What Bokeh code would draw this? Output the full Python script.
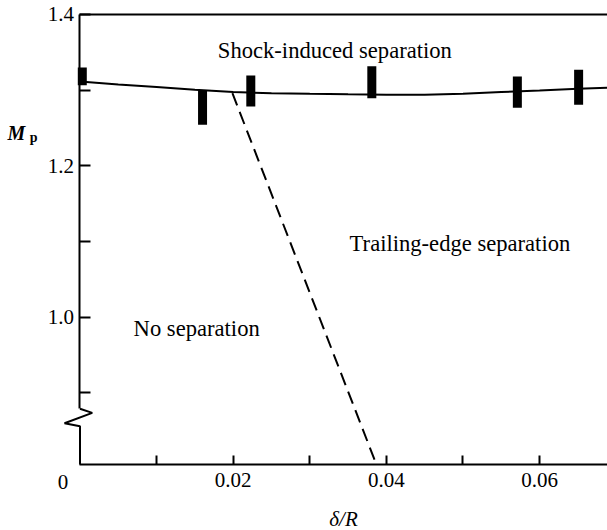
from bokeh.plotting import figure
from bokeh.models import LinearAxis, FixedTicker, Label
from bokeh.core.properties import value
from bokeh.embed import file_html
from bokeh.resources import INLINE

# Separation boundary M_p(δ/R)
curve_x = [0.0, 0.005, 0.01, 0.015, 0.02, 0.025, 0.03, 0.035, 0.04, 0.045,
           0.05, 0.055, 0.06, 0.065, 0.0689]
curve_y = [1.3115, 1.3075, 1.3042, 1.3005, 1.2975, 1.2960, 1.2952, 1.2945,
           1.2940, 1.2940, 1.2952, 1.2975, 1.2995, 1.3019, 1.3033]

# Measured ranges (error bars)
bar_x = [0.0003, 0.0160, 0.0223, 0.0381, 0.0571, 0.0651]
bar_lo = [1.3066, 1.2543, 1.2785, 1.2894, 1.2768, 1.2807]
bar_hi = [1.3300, 1.2996, 1.3194, 1.3317, 1.3180, 1.3270]

# Boundary between no separation and trailing-edge separation
boundary_x = [0.0199, 0.0387]
boundary_y = [1.2960, 0.8055]

x_ticks = [0.01, 0.02, 0.03, 0.04, 0.05, 0.06]
x_tick_labels = ["", "0.02", "", "0.04", "", "0.06"]
y_ticks = [0.9, 1.0, 1.1, 1.2, 1.3, 1.4]
y_tick_labels = ["", "1.0", "", "1.2", "", "1.4"]

region_text = ["Shock-induced separation", "Trailing-edge separation", "No separation"]
region_x = [0.0180, 0.0352, 0.0070]
region_y = [1.3524, 1.0971, 0.9848]

# Axis frame: δ/R from 0, M_p from the (broken) bottom up to 1.4
X0, X1 = 0.0, 0.06887
Y0, Y1 = 0.8055, 1.4
SERIF = "Liberation Serif"

# The plotting frame fills the canvas; the axes are pinned inside it.
p = figure(width=607, height=530, x_range=(-0.010379, X1), y_range=(0.71836, 1.41849),
           x_axis_location=None, y_axis_location=None,
           output_backend="svg", toolbar_location=None,
           min_border=0)
p.outline_line_color = None
p.background_fill_color = "white"
p.border_fill_color = "white"
for g in p.grid:
    g.visible = False


def style_axis(ax, tick_in):
    ax.axis_line_width = 2
    ax.axis_line_color = "black"
    ax.major_tick_in = tick_in
    ax.major_tick_out = 0
    ax.major_tick_line_width = 2
    ax.major_tick_line_color = "black"
    ax.minor_tick_in = 0
    ax.minor_tick_out = 0
    ax.major_label_text_font = SERIF
    ax.major_label_text_font_size = "21px"
    ax.major_label_text_color = "black"


xaxis = LinearAxis(ticker=FixedTicker(ticks=x_ticks), bounds=(X0, X1),
                   fixed_location=Y0)
style_axis(xaxis, 9)
xaxis.major_label_overrides = dict(zip(x_ticks, x_tick_labels))
xaxis.major_label_standoff = 8
xaxis.axis_label = "δ/R"
xaxis.axis_label_text_font = SERIF
xaxis.axis_label_text_font_style = "italic"
xaxis.axis_label_text_font_size = "21px"
xaxis.axis_label_text_color = "black"
xaxis.axis_label_standoff = 17
p.add_layout(xaxis, "below")

yaxis = LinearAxis(ticker=FixedTicker(ticks=y_ticks), bounds=(0.8791, Y1),
                   fixed_location=X0)
style_axis(yaxis, 11)
yaxis.major_label_overrides = dict(zip(y_ticks, y_tick_labels))
yaxis.major_label_standoff = 6
p.add_layout(yaxis, "left")

top = LinearAxis(ticker=FixedTicker(ticks=[]), bounds=(X0, X1), fixed_location=Y1)
style_axis(top, 0)
top.major_label_text_font_size = "0px"
p.add_layout(top, "above")

# Broken lower part of the M_p axis
p.line([0, 0.0016, -0.00202, 0, 0], [0.8791, 0.8738, 0.8601, 0.8561, Y0],
       line_color="black", line_width=2)

p.line(curve_x, curve_y, line_color="black", line_width=2)
p.line(boundary_x, boundary_y, line_color="black", line_width=2, line_dash="13 7")
p.segment(x0=bar_x, y0=bar_lo, x1=bar_x, y1=bar_hi, line_color="black",
          line_width=9, line_cap="butt")

p.text(x=region_x, y=region_y, text=region_text, text_font=value(SERIF),
       text_font_size="22.6px", text_color="black", text_align="left",
       text_baseline="alphabetic")

p.add_layout(Label(x=0, x_offset=-17, y=0.7818, text="0", text_font=SERIF,
                   text_font_size="21px", text_align="center",
                   text_baseline="middle", text_color="black"))
p.add_layout(Label(x=-0.00945, y=1.2435, text="M", text_font=SERIF,
                   text_font_style="bold italic", text_font_size="20px",
                   text_baseline="alphabetic", text_color="black"))
p.add_layout(Label(x=-0.00655, y=1.2380, text="p", text_font=SERIF,
                   text_font_style="bold", text_font_size="14px",
                   text_baseline="alphabetic", text_color="black"))

open("out.html", "w").write(file_html(p, INLINE))
